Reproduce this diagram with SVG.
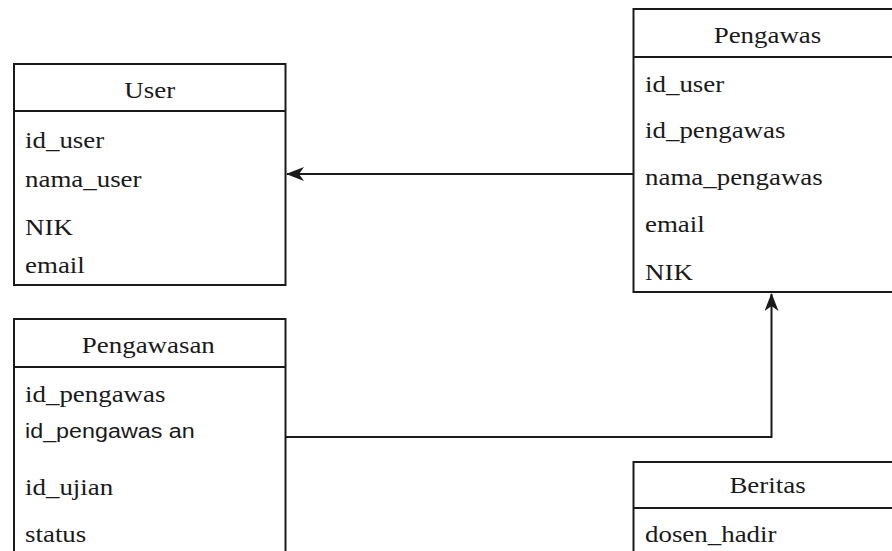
<svg xmlns="http://www.w3.org/2000/svg" width="892" height="551" viewBox="0 0 892 551">
<style>
.box{fill:#fff;stroke:#1a1a1a;stroke-width:2}
.sep{stroke:#1a1a1a;stroke-width:2}
.t{font-family:"Liberation Serif","Times New Roman",serif;font-size:23px;fill:#1a1a1a}
.c{text-anchor:middle}
.s{font-family:"Liberation Sans",Arial,sans-serif;font-size:21px;fill:#1a1a1a}
.conn{fill:none;stroke:#1a1a1a;stroke-width:2}
</style>
<defs>
<marker id="arr" markerUnits="userSpaceOnUse" viewBox="0 0 18 14" refX="17" refY="7" markerWidth="18" markerHeight="14" orient="auto">
<path d="M0,0 L18,7 L0,14 L5,7 Z" fill="#1a1a1a"/>
</marker>
</defs>
<rect width="892" height="551" fill="#fff"/>
<g id="connectors">
<path class="conn" d="M633,174 H287" marker-end="url(#arr)"/>
<path class="conn" d="M286,437 H771.5 V294" marker-end="url(#arr)"/>
</g>
<g id="user">
<rect class="box" x="14" y="64" width="271.5" height="221"/>
<line class="sep" x1="14" y1="111" x2="285.5" y2="111"/>
<g transform="scale(1.17 1)">
<text class="t c" x="128" y="98">User</text>
<text class="t" x="21.4" y="148">id_user</text>
<text class="t" x="21.4" y="187">nama_user</text>
<text class="t" x="21.4" y="235">NIK</text>
<text class="t" x="21.4" y="273">email</text>
</g>
</g>
<g id="pengawas">
<rect class="box" x="633.5" y="9" width="280" height="283"/>
<line class="sep" x1="633.5" y1="57" x2="913" y2="57"/>
<g transform="scale(1.17 1)">
<text class="t c" x="656" y="43">Pengawas</text>
<text class="t" x="551.3" y="92">id_user</text>
<text class="t" x="551.3" y="138">id_pengawas</text>
<text class="t" x="551.3" y="185">nama_pengawas</text>
<text class="t" x="551.3" y="232">email</text>
<text class="t" x="551.3" y="280">NIK</text>
</g>
</g>
<g id="pengawasan">
<rect class="box" x="14" y="319" width="271.5" height="250"/>
<line class="sep" x1="14" y1="367" x2="285.5" y2="367"/>
<g transform="scale(1.17 1)">
<text class="t c" x="126.8" y="353">Pengawasan</text>
<text class="t" x="21.4" y="402">id_pengawas</text>
<text class="s" x="21.4" y="438" textLength="145" lengthAdjust="spacingAndGlyphs">id_pengawas an</text>
<text class="t" x="21.4" y="495">id_ujian</text>
<text class="t" x="21.4" y="542">status</text>
</g>
</g>
<g id="beritas">
<rect class="box" x="633.5" y="462" width="280" height="120"/>
<line class="sep" x1="633.5" y1="508" x2="913" y2="508"/>
<g transform="scale(1.17 1)">
<text class="t c" x="656" y="493">Beritas</text>
<text class="t" x="551.3" y="542">dosen_hadir</text>
</g>
</g>
</svg>
